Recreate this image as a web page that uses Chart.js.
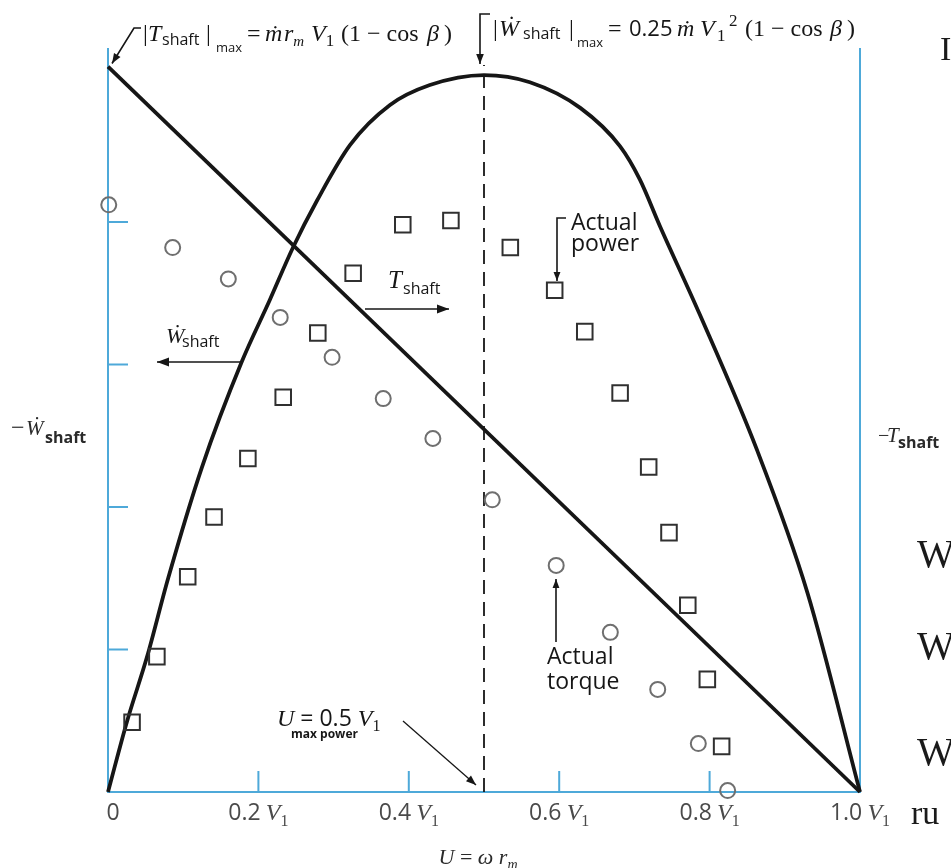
<!DOCTYPE html>
<html>
<head>
<meta charset="utf-8">
<script src="https://cdn.jsdelivr.net/npm/chart.js@4/dist/chart.umd.min.js"></script>
<style>
  html, body { margin: 0; padding: 0; background: #fff; }
</style>
</head>
<body>
<canvas id="turbineChart" width="951" height="868"></canvas>
<script>
// blade speed U as a fraction of jet speed V1
const uTicks = [0, 0.2, 0.4, 0.6, 0.8, 1.0];
const uTickText = ['0', '0.2', '0.4', '0.6', '0.8', '1.0'];
const wTicks = [1, 2, 3, 4];

// ideal shaft power (parabola) and ideal torque (straight line)
const idealPowerU = [0, 0.025, 0.052, 0.080, 0.125, 0.178, 0.215, 0.246, 0.278, 0.322, 0.375, 0.428, 0.5, 0.561, 0.628, 0.681, 0.707, 0.734, 0.787, 0.863, 0.930, 1.0];
const idealPowerW = [0, 0.49, 0.95, 1.50, 2.28, 3.02, 3.45, 3.82, 4.15, 4.54, 4.82, 4.96, 5.03, 4.98, 4.80, 4.53, 4.30, 3.97, 3.35, 2.40, 1.40, 0];
const idealTorqueU = [0, 1.0];
const idealTorqueT = [5.09, 0];

// measured values
const actualPowerU = [0.032, 0.065, 0.106, 0.141, 0.186, 0.233, 0.279, 0.326, 0.392, 0.456, 0.535, 0.594, 0.634, 0.681, 0.719, 0.746, 0.771, 0.797, 0.816];
const actualPowerW = [0.49, 0.95, 1.51, 1.93, 2.34, 2.77, 3.22, 3.64, 3.98, 4.01, 3.82, 3.52, 3.23, 2.80, 2.28, 1.82, 1.31, 0.79, 0.32];
const actualTorqueU = [0.001, 0.086, 0.160, 0.229, 0.298, 0.366, 0.432, 0.511, 0.596, 0.668, 0.731, 0.785, 0.824];
const actualTorqueT = [4.12, 3.82, 3.60, 3.33, 3.05, 2.76, 2.48, 2.05, 1.59, 1.12, 0.72, 0.34, 0.01];

const maxPowerU = 0.5;

const AXIS_BLUE = '#4ea9d9';
const INK = '#161616';
const SERIF = '"Liberation Serif", "DejaVu Serif", serif';
const SANS = '"Open Sans", "DejaVu Sans", sans-serif';

const pts = (xs, ys) => xs.map((v, i) => ({ x: v, y: ys[i] }));

// draws a row of text pieces, each with its own font, offset and optional fixed x
function drawRuns(ctx, x, y, runs, align) {
  let total = 0;
  runs.forEach(r => { ctx.font = r.f; total += ctx.measureText(r.t).width; });
  let cx = align === 'center' ? x - total / 2 : x;
  ctx.textAlign = 'left';
  runs.forEach(r => {
    ctx.font = r.f;
    if (r.at !== undefined) cx = r.at;
    ctx.fillText(r.t, cx, y + (r.dy || 0));
    cx += ctx.measureText(r.t).width;
  });
}

function arrow(ctx, path, head) {
  head = head || 9;
  ctx.beginPath();
  ctx.moveTo(path[0][0], path[0][1]);
  path.slice(1).forEach(p => ctx.lineTo(p[0], p[1]));
  ctx.stroke();
  const [x1, y1] = path[path.length - 2];
  const [x2, y2] = path[path.length - 1];
  const a = Math.atan2(y2 - y1, x2 - x1);
  const w = head * 0.38;
  ctx.beginPath();
  ctx.moveTo(x2, y2);
  ctx.lineTo(x2 - head * Math.cos(a) + w * Math.sin(a), y2 - head * Math.sin(a) - w * Math.cos(a));
  ctx.lineTo(x2 - head * Math.cos(a) - w * Math.sin(a), y2 - head * Math.sin(a) + w * Math.cos(a));
  ctx.closePath();
  ctx.fill();
}

const framePlugin = {
  id: 'frame',
  beforeDatasetsDraw(chart) {
    const { ctx, chartArea: a, scales: { x, y } } = chart;
    ctx.save();
    ctx.strokeStyle = AXIS_BLUE;
    ctx.lineWidth = 2;
    ctx.beginPath();
    ctx.moveTo(a.left, a.top);
    ctx.lineTo(a.left, a.bottom);
    ctx.lineTo(a.right, a.bottom);
    ctx.lineTo(a.right, a.top);
    wTicks.forEach(v => {
      const py = y.getPixelForValue(v);
      ctx.moveTo(a.left, py);
      ctx.lineTo(a.left + 20, py);
    });
    uTicks.slice(1, -1).forEach(v => {
      const px = x.getPixelForValue(v);
      ctx.moveTo(px, a.bottom);
      ctx.lineTo(px, a.bottom - 21);
    });
    ctx.stroke();
    ctx.restore();
  },
  afterDraw(chart) {
    const { ctx, chartArea: a, scales: { x, y } } = chart;
    ctx.save();
    ctx.textBaseline = 'alphabetic';

    // tick labels along U
    ctx.fillStyle = '#4a4a4a';
    uTicks.forEach((v, i) => {
      const runs = [{ t: uTickText[i], f: '23px ' + SANS }];
      let px = x.getPixelForValue(v);
      if (v > 0) {
        runs.push({ t: ' ', f: '20px ' + SANS });
        runs.push({ t: 'V', f: 'italic 24px ' + SERIF });
        runs.push({ t: '1', f: '16px ' + SERIF, dy: 6 });
      } else {
        px += 5;
      }
      drawRuns(ctx, px, a.bottom + 28, runs, 'center');
    });

    ctx.fillStyle = '#2a2a2a';
    // axis titles
    drawRuns(ctx, 478, 864, [
      { t: 'U', f: 'italic 22px ' + SERIF },
      { t: ' = ', f: '22px ' + SERIF },
      { t: 'ω', f: 'italic 22px ' + SERIF },
      { t: ' r', f: 'italic 22px ' + SERIF },
      { t: 'm', f: 'italic 14px ' + SERIF, dy: 5 }
    ], 'center');
    drawRuns(ctx, 11, 435, [
      { t: '−', f: '24px ' + SERIF },
      { t: 'Ẇ', f: 'italic 21px ' + SERIF, at: 26 },
      { t: 'shaft', f: 'bold 16px ' + SANS, dy: 8, at: 45 }
    ]);
    drawRuns(ctx, 878, 442, [
      { t: '−', f: '20px ' + SERIF },
      { t: 'T', f: 'italic 21px ' + SERIF, at: 887 },
      { t: 'shaft', f: 'bold 16px ' + SANS, dy: 6, at: 898 }
    ]);

    ctx.fillStyle = INK;
    ctx.strokeStyle = INK;
    ctx.lineWidth = 1.6;

    // |T_shaft|max note at the top left
    drawRuns(ctx, 143, 41, [
      { t: '|', f: '24px ' + SERIF, at: 143 },
      { t: 'T', f: 'italic 24px ' + SERIF, at: 148 },
      { t: 'shaft', f: '16px ' + SANS, dy: 4, at: 162 },
      { t: '|', f: '24px ' + SERIF, at: 206 },
      { t: 'max', f: '13px ' + SANS, dy: 11, at: 216 },
      { t: '=', f: '24px ' + SERIF, at: 247 },
      { t: 'ṁ', f: 'italic 24px ' + SERIF, at: 265 },
      { t: 'r', f: 'italic 24px ' + SERIF, at: 284 },
      { t: 'm', f: 'italic 15px ' + SERIF, dy: 5 },
      { t: 'V', f: 'italic 24px ' + SERIF, at: 311 },
      { t: '1', f: '17px ' + SERIF, dy: 5 },
      { t: '(1 − cos', f: '24px ' + SERIF, at: 341 },
      { t: 'β', f: 'italic 24px ' + SERIF, at: 427 },
      { t: ')', f: '24px ' + SERIF, at: 444 }
    ]);
    arrow(ctx, [[141, 28], [134, 28], [x.getPixelForValue(0) + 4, y.getPixelForValue(idealTorqueT[0]) - 3]], 10);

    // |W_shaft|max note at the top right
    drawRuns(ctx, 493, 36, [
      { t: '|', f: '24px ' + SERIF, at: 493 },
      { t: 'Ẇ', f: 'italic 24px ' + SERIF, at: 499 },
      { t: 'shaft', f: '16px ' + SANS, dy: 3, at: 523 },
      { t: '|', f: '24px ' + SERIF, at: 569 },
      { t: 'max', f: '13px ' + SANS, dy: 11, at: 577 },
      { t: '=', f: '24px ' + SERIF, at: 608 },
      { t: '0.25', f: '22px ' + SANS, at: 629 },
      { t: 'ṁ', f: 'italic 24px ' + SERIF, at: 677 },
      { t: 'V', f: 'italic 24px ' + SERIF, at: 700 },
      { t: '1', f: '17px ' + SERIF, dy: 5, at: 717 },
      { t: '2', f: '17px ' + SERIF, dy: -10, at: 729 },
      { t: '(1 − cos', f: '24px ' + SERIF, at: 745 },
      { t: 'β', f: 'italic 24px ' + SERIF, at: 830 },
      { t: ')', f: '24px ' + SERIF, at: 847 }
    ]);
    const peakX = x.getPixelForValue(maxPowerU) - 4;
    arrow(ctx, [[490, 14], [peakX, 14], [peakX, 64]], 10);

    // force direction labels
    drawRuns(ctx, 166, 343, [
      { t: 'Ẇ', f: 'italic 22px ' + SERIF },
      { t: 'shaft', f: '16px ' + SANS, dy: 4, at: 182 }
    ]);
    arrow(ctx, [[242, 362], [157, 362]], 12);
    drawRuns(ctx, 388, 288, [
      { t: 'T', f: 'italic 25px ' + SERIF },
      { t: 'shaft', f: '16px ' + SANS, dy: 6, at: 403 }
    ]);
    arrow(ctx, [[365, 309], [449, 309]], 12);

    // measured data callouts
    ctx.font = '23px ' + SANS;
    ctx.fillText('Actual', 571, 230);
    ctx.fillText('power', 571, 251);
    arrow(ctx, [[566, 218], [557, 218], [557, 281]], 9);
    ctx.fillText('Actual', 547, 664);
    ctx.fillText('torque', 547, 689);
    arrow(ctx, [[556, 642], [556, 579]], 9);

    // U at maximum power
    drawRuns(ctx, 277, 726, [
      { t: 'U', f: 'italic 24px ' + SERIF },
      { t: ' = 0.5', f: '23px ' + SANS },
      { t: ' V', f: 'italic 24px ' + SERIF },
      { t: '1', f: '16px ' + SERIF, dy: 5 }
    ]);
    ctx.font = 'bold 12px ' + SANS;
    ctx.fillText('max power', 291, 738);
    ctx.lineWidth = 1.3;
    arrow(ctx, [[403, 721], [x.getPixelForValue(maxPowerU) - 8, 785]], 10);

    // slide text running in from the right
    ctx.fillStyle = '#1a1a1a';
    ctx.font = '34px ' + SERIF;
    ctx.fillText('I', 940, 60);
    ctx.font = '40px ' + SERIF;
    ctx.fillText('W', 917, 567);
    ctx.fillText('W', 917, 659);
    ctx.fillText('W', 917, 765);
    ctx.font = '34px ' + SERIF;
    ctx.fillText('ru', 911, 824);
    ctx.restore();
  }
};

new Chart(document.getElementById('turbineChart'), {
  type: 'scatter',
  data: {
    datasets: [
      {
        label: 'Actual torque',
        data: pts(actualTorqueU, actualTorqueT),
        pointStyle: 'circle',
        pointRadius: 7.5,
        borderColor: '#6f6f6f',
        borderWidth: 2,
        backgroundColor: 'rgba(255,255,255,0)',
        clip: false
      },
      {
        label: 'Actual power',
        data: pts(actualPowerU, actualPowerW),
        pointStyle: 'rect',
        pointRadius: 11,
        borderColor: '#303030',
        borderWidth: 2,
        backgroundColor: 'rgba(255,255,255,0)',
        clip: false
      },
      {
        label: 'Ideal torque',
        type: 'line',
        data: pts(idealTorqueU, idealTorqueT),
        borderColor: INK,
        borderWidth: 3.8,
        pointRadius: 0,
        clip: false
      },
      {
        label: 'Ideal power',
        type: 'line',
        data: pts(idealPowerU, idealPowerW),
        borderColor: INK,
        borderWidth: 3.8,
        pointRadius: 0,
        cubicInterpolationMode: 'monotone',
        clip: false
      },
      {
        label: 'Max power',
        type: 'line',
        data: [{ x: maxPowerU, y: 0 }, { x: maxPowerU, y: 5.1 }],
        borderColor: INK,
        borderWidth: 1.8,
        borderDash: [14, 8],
        pointRadius: 0
      }
    ]
  },
  options: {
    responsive: false,
    animation: false,
    layout: { padding: { left: 108, right: 91, top: 48, bottom: 76 } },
    scales: {
      x: { type: 'linear', min: 0, max: 1, display: false },
      y: { min: 0, max: 5.22, display: false }
    },
    plugins: {
      legend: { display: false },
      tooltip: { enabled: false }
    }
  },
  plugins: [framePlugin]
});
</script>
</body>
</html>
